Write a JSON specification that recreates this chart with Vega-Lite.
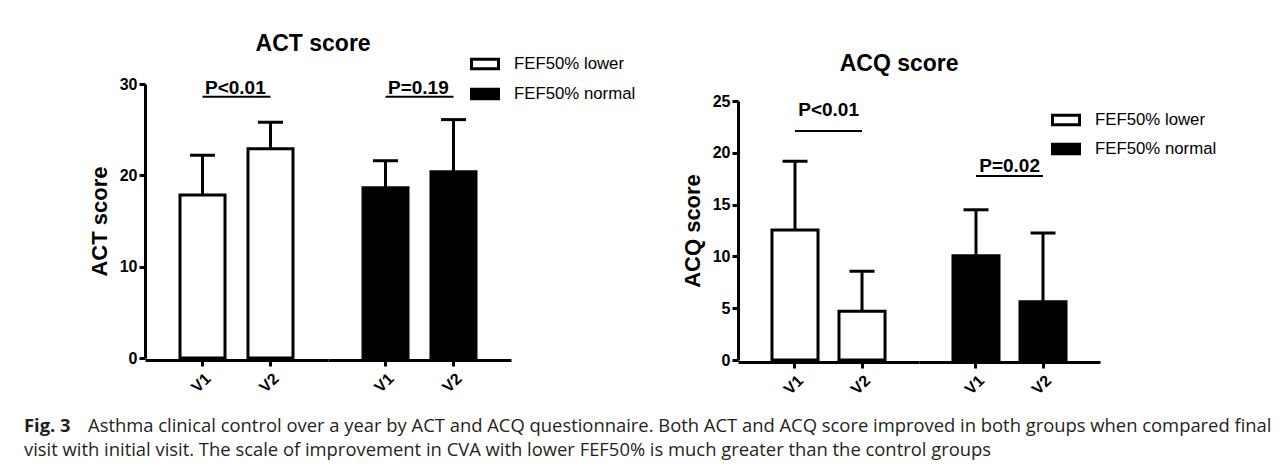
{
  "$schema": "https://vega.github.io/schema/vega-lite/v6.json",
  "padding": {"left": 24, "top": 33, "right": 0, "bottom": 0},
  "background": "white",
  "spacing": 16,
  "vconcat": [
    {
      "spacing": 45,
      "resolve": {"scale": {"fill": "independent"}, "legend": {"fill": "independent"}},
      "hconcat": [
        {
          "data": {"values": [
            {"kind": "bar", "group": "FEF50% lower", "visit": "V1", "mean": 17.85, "upper": 22.2},
            {"kind": "bar", "group": "FEF50% lower", "visit": "V2", "mean": 22.9, "upper": 25.8},
            {"kind": "bar", "group": "FEF50% normal", "visit": "V1", "mean": 18.65, "upper": 21.6},
            {"kind": "bar", "group": "FEF50% normal", "visit": "V2", "mean": 20.4, "upper": 26.1},
            {"kind": "p", "group": "FEF50% lower", "label": "P<0.01", "lineAt": 28.6, "labelAt": 28.9},
            {"kind": "p", "group": "FEF50% normal", "label": "P=0.19", "lineAt": 28.6, "labelAt": 28.9}
          ]},
          "title": {"text": "ACT score", "anchor": "middle", "dx": -49, "offset": -7},
          "facet": {"column": {"field": "group", "type": "nominal", "header": {"labels": false, "title": null}}},
          "spacing": 0,
          "spec": {
            "width": 183,
            "height": 274,
            "layer": [
              {
                "transform": [{"filter": "datum.kind === 'bar'"}],
                "mark": {"type": "bar", "stroke": "black", "strokeWidth": 3},
                "encoding": {
                  "x": {"field": "visit", "type": "nominal", "title": null, "scale": {"paddingInner": 0.338, "paddingOuter": 0.515}},
                  "y": {"field": "mean", "type": "quantitative", "title": "ACT score", "scale": {"domain": [0, 30], "nice": false}, "axis": {"values": [0, 10, 20, 30]}},
                  "fill": {"field": "group", "type": "nominal", "scale": {"domain": ["FEF50% lower", "FEF50% normal"], "range": ["white", "black"]}, "legend": {"orient": "none", "legendX": 325, "legendY": -35, "title": null, "rowPadding": 4}}
                }
              },
              {
                "transform": [{"filter": "datum.kind === 'bar'"}],
                "mark": {"type": "rule", "strokeWidth": 3, "color": "black"},
                "encoding": {
                  "x": {"field": "visit", "type": "nominal", "title": null},
                  "y": {"field": "mean", "type": "quantitative", "title": "ACT score"},
                  "y2": {"field": "upper"}
                }
              },
              {
                "transform": [{"filter": "datum.kind === 'bar'"}],
                "mark": {"type": "tick", "thickness": 3, "size": 25, "color": "black", "opacity": 1},
                "encoding": {
                  "x": {"field": "visit", "type": "nominal", "title": null},
                  "y": {"field": "upper", "type": "quantitative", "title": "ACT score"}
                }
              },
              {
                "transform": [{"filter": "datum.kind === 'p'"}],
                "mark": {"type": "rule", "strokeWidth": 2, "color": "black"},
                "encoding": {
                  "x": {"datum": "V1", "type": "nominal", "title": null},
                  "x2": {"datum": "V2"},
                  "y": {"field": "lineAt", "type": "quantitative", "title": "ACT score"}
                }
              },
              {
                "transform": [{"filter": "datum.kind === 'p'"}],
                "mark": {"type": "text", "fontSize": 19, "fontWeight": "bold", "baseline": "alphabetic", "align": "center", "color": "black"},
                "encoding": {
                  "x": {"datum": "V1", "type": "nominal", "bandPosition": 1.23, "title": null},
                  "y": {"field": "labelAt", "type": "quantitative", "title": "ACT score"},
                  "text": {"field": "label"}
                }
              }
            ]
          }
        },
        {
          "data": {"values": [
            {"kind": "bar", "group": "FEF50% lower", "visit": "V1", "mean": 12.55, "upper": 19.18},
            {"kind": "bar", "group": "FEF50% lower", "visit": "V2", "mean": 4.7, "upper": 8.56},
            {"kind": "bar", "group": "FEF50% normal", "visit": "V1", "mean": 10.07, "upper": 14.5},
            {"kind": "bar", "group": "FEF50% normal", "visit": "V2", "mean": 5.63, "upper": 12.26},
            {"kind": "p", "group": "FEF50% lower", "label": "P<0.01", "lineAt": 22.1, "labelAt": 23.55},
            {"kind": "p", "group": "FEF50% normal", "label": "P=0.02", "lineAt": 17.76, "labelAt": 18.1}
          ]},
          "title": {"text": "ACQ score", "anchor": "middle", "dx": -50, "offset": 8},
          "facet": {"column": {"field": "group", "type": "nominal", "header": {"labels": false, "title": null}}},
          "spacing": 0,
          "spec": {
            "width": 181,
            "height": 276,
            "layer": [
              {
                "transform": [{"filter": "datum.kind === 'bar'"}],
                "mark": {"type": "bar", "stroke": "black", "strokeWidth": 3},
                "encoding": {
                  "x": {"field": "visit", "type": "nominal", "title": null, "scale": {"paddingInner": 0.313, "paddingOuter": 0.507}},
                  "y": {"field": "mean", "type": "quantitative", "title": "ACQ score", "scale": {"domain": [0, 25], "nice": false, "range": [276, 17]}, "axis": {"values": [0, 5, 10, 15, 20, 25]}},
                  "fill": {"field": "group", "type": "nominal", "scale": {"domain": ["FEF50% lower", "FEF50% normal"], "range": ["white", "black"]}, "legend": {"orient": "none", "legendX": 313, "legendY": 21, "title": null, "rowPadding": 3}}
                }
              },
              {
                "transform": [{"filter": "datum.kind === 'bar'"}],
                "mark": {"type": "rule", "strokeWidth": 3, "color": "black"},
                "encoding": {
                  "x": {"field": "visit", "type": "nominal", "title": null},
                  "y": {"field": "mean", "type": "quantitative", "title": "ACQ score"},
                  "y2": {"field": "upper"}
                }
              },
              {
                "transform": [{"filter": "datum.kind === 'bar'"}],
                "mark": {"type": "tick", "thickness": 3, "size": 25, "color": "black", "opacity": 1},
                "encoding": {
                  "x": {"field": "visit", "type": "nominal", "title": null},
                  "y": {"field": "upper", "type": "quantitative", "title": "ACQ score"}
                }
              },
              {
                "transform": [{"filter": "datum.kind === 'p'"}],
                "mark": {"type": "rule", "strokeWidth": 2, "color": "black"},
                "encoding": {
                  "x": {"datum": "V1", "type": "nominal", "title": null},
                  "x2": {"datum": "V2"},
                  "y": {"field": "lineAt", "type": "quantitative", "title": "ACQ score"}
                }
              },
              {
                "transform": [{"filter": "datum.kind === 'p'"}],
                "mark": {"type": "text", "fontSize": 19, "fontWeight": "bold", "baseline": "alphabetic", "align": "center", "color": "black"},
                "encoding": {
                  "x": {"datum": "V1", "type": "nominal", "bandPosition": 1.23, "title": null},
                  "y": {"field": "labelAt", "type": "quantitative", "title": "ACQ score"},
                  "text": {"field": "label"}
                }
              }
            ]
          }
        }
      ]
    },
    {
      "width": 1000,
      "height": 48,
      "data": {"values": [
        {"line": "1", "part": "fig", "text": "Fig. 3"},
        {"line": "1", "part": "body", "text": "Asthma clinical control over a year by ACT and ACQ questionnaire. Both ACT and ACQ score improved in both groups when compared final"},
        {"line": "2", "part": "body", "text": "visit with initial visit. The scale of improvement in CVA with lower FEF50% is much greater than the control groups"}
      ]},
      "encoding": {
        "x": {"value": 0},
        "y": {"field": "line", "type": "ordinal", "axis": null, "scale": {"type": "point", "padding": 0.5}},
        "text": {"field": "text"}
      },
      "layer": [
        {"transform": [{"filter": "datum.part === 'fig'"}], "mark": {"type": "text", "align": "left", "baseline": "middle", "font": "Open Sans", "fontSize": 18.4, "fontWeight": "bold", "color": "#231f20", "dx": -121}},
        {"transform": [{"filter": "datum.part === 'body' && datum.line === '1'"}], "mark": {"type": "text", "align": "left", "baseline": "middle", "font": "Open Sans", "fontSize": 18.4, "color": "#231f20", "dx": -57}},
        {"transform": [{"filter": "datum.line === '2'"}], "mark": {"type": "text", "align": "left", "baseline": "middle", "font": "Open Sans", "fontSize": 18.4, "color": "#231f20", "dx": -121}}
      ]
    }
  ],
  "config": {
    "view": {"stroke": null},
    "font": "Liberation Sans",
    "axis": {
      "grid": false,
      "domainColor": "black",
      "domainWidth": 3,
      "tickColor": "black",
      "tickWidth": 3,
      "tickSize": 6,
      "labelColor": "black",
      "labelFont": "Liberation Sans",
      "labelFontSize": 16,
      "labelFontWeight": "bold",
      "labelPadding": 2,
      "titleColor": "black",
      "titleFont": "Liberation Sans",
      "titleFontSize": 22,
      "titleFontWeight": "bold",
      "titlePadding": 8
    },
    "axisX": {"labelAngle": -45, "labelPadding": 4},
    "title": {"font": "Liberation Sans", "fontSize": 23, "fontWeight": "bold", "color": "black"},
    "legend": {
      "labelFont": "Liberation Sans",
      "labelFontSize": 16.8,
      "labelColor": "black",
      "symbolType": "M-1,-0.35H1V0.35H-1Z",
      "symbolSize": 729,
      "symbolStrokeColor": "black",
      "symbolStrokeWidth": 3,
      "labelOffset": 14,
      "padding": 0
    }
  }
}
